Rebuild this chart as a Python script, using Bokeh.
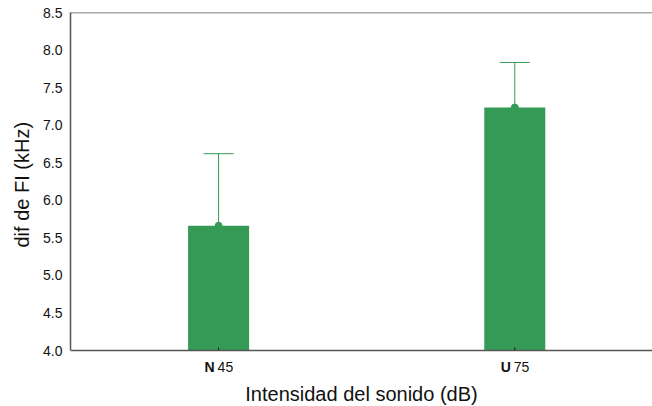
from bokeh.plotting import figure
from bokeh.models import Whisker, TeeHead, Span, ColumnDataSource, FixedTicker, NumeralTickFormatter, Title
from bokeh.core.properties import value
from bokeh.embed import file_html
from bokeh.resources import INLINE

# data
groups_bold = ["N", "U"]
groups_db = ["45", "75"]
means = [5.66, 7.235]
upper = [6.62, 7.835]
xpos = [0, 1]
y_ticks = [4.0, 4.5, 5.0, 5.5, 6.0, 6.5, 7.0, 7.5, 8.0, 8.5]

GREEN = "#359a55"
FONT = "Liberation Sans"
Y0, Y1 = 4.0, 8.5
PX_PER_UNIT = 338 / (Y1 - Y0)
YMIN = Y0 - 56 / PX_PER_UNIT      # frame continues under the axis to hold the category labels

src = ColumnDataSource(dict(x=xpos, mean=means, upper=upper))

p = figure(frame_width=582, frame_height=394, output_backend="svg", toolbar_location=None,
           x_range=(-0.5, 1.465), y_range=(YMIN, Y1),
           min_border_left=70, min_border_right=0, min_border_top=12, min_border_bottom=0)
p.outline_line_color = None
p.grid.grid_line_color = None

p.vbar(x="x", top="mean", bottom=Y0, width=0.206, source=src, fill_color=GREEN, line_color=None)

w = Whisker(base="x", lower="mean", upper="upper", source=src, line_color=GREEN, line_width=1,
            upper_head=TeeHead(size=30, line_color=GREEN, line_width=1), lower_head=None)
p.add_layout(w)
p.scatter(x="x", y="mean", source=src, size=7, fill_color=GREEN, line_color=GREEN)

# y axis
ya = p.yaxis[0]
ya.bounds = (Y0, Y1)
ya.ticker = FixedTicker(ticks=y_ticks)
ya.formatter = NumeralTickFormatter(format="0.0")
ya.major_tick_out = 0
ya.major_tick_in = 0
ya.minor_tick_out = 0
ya.minor_tick_in = 0
ya.axis_line_color = "#555555"
ya.axis_line_width = 1.5
ya.major_label_text_font = FONT
ya.major_label_text_font_size = "14px"
ya.major_label_text_color = "#111111"
ya.major_label_standoff = 8

# y title placed along the 4.0-8.5 span
p.add_layout(Title(text="dif de FI (kHz)", align="left", offset=159, standoff=15,
                   text_font=FONT, text_font_size="20px", text_font_style="normal",
                   text_color="#111111"), "left")

# x axis drawn at y = 4.0
xa = p.xaxis[0]
xa.fixed_location = Y0
xa.ticker = FixedTicker(ticks=[])
xa.major_tick_out = 0
xa.major_tick_in = 0
xa.minor_tick_out = 0
xa.minor_tick_in = 0
xa.axis_line_color = "#555555"
xa.axis_line_width = 1.5
xa.major_label_standoff = 0
xa.axis_label = "Intensidad del sonido (dB)"
xa.axis_label_text_font = FONT
xa.axis_label_text_font_size = "20px"
xa.axis_label_text_font_style = "normal"
xa.axis_label_text_color = "#111111"
xa.axis_label_standoff = 32

# small inward tick marks at the categories
ticks = ColumnDataSource(dict(x=xpos, y0=[Y0, Y0], y1=[Y0 + 3 / PX_PER_UNIT] * 2))
p.segment(x0="x", x1="x", y0="y0", y1="y1", source=ticks, line_color="#111111", line_width=1)

# top frame line
p.add_layout(Span(location=Y1, dimension="width", line_color="#555555", line_width=1.5))

# category labels: bold letter + normal dB value
ylab = Y0 - 16 / PX_PER_UNIT
lab = ColumnDataSource(dict(x=xpos, y=[ylab, ylab], b=groups_bold, d=groups_db))
p.text(x="x", y="y", text="b", source=lab, x_offset=-4, text_align="right", text_baseline="middle",
       text_font=value(FONT), text_font_size="14px", text_font_style="bold", text_color="#111111")
p.text(x="x", y="y", text="d", source=lab, x_offset=-1, text_align="left", text_baseline="middle",
       text_font=value(FONT), text_font_size="14px", text_color="#111111")

open("out.html", "w").write(file_html(p, INLINE))
